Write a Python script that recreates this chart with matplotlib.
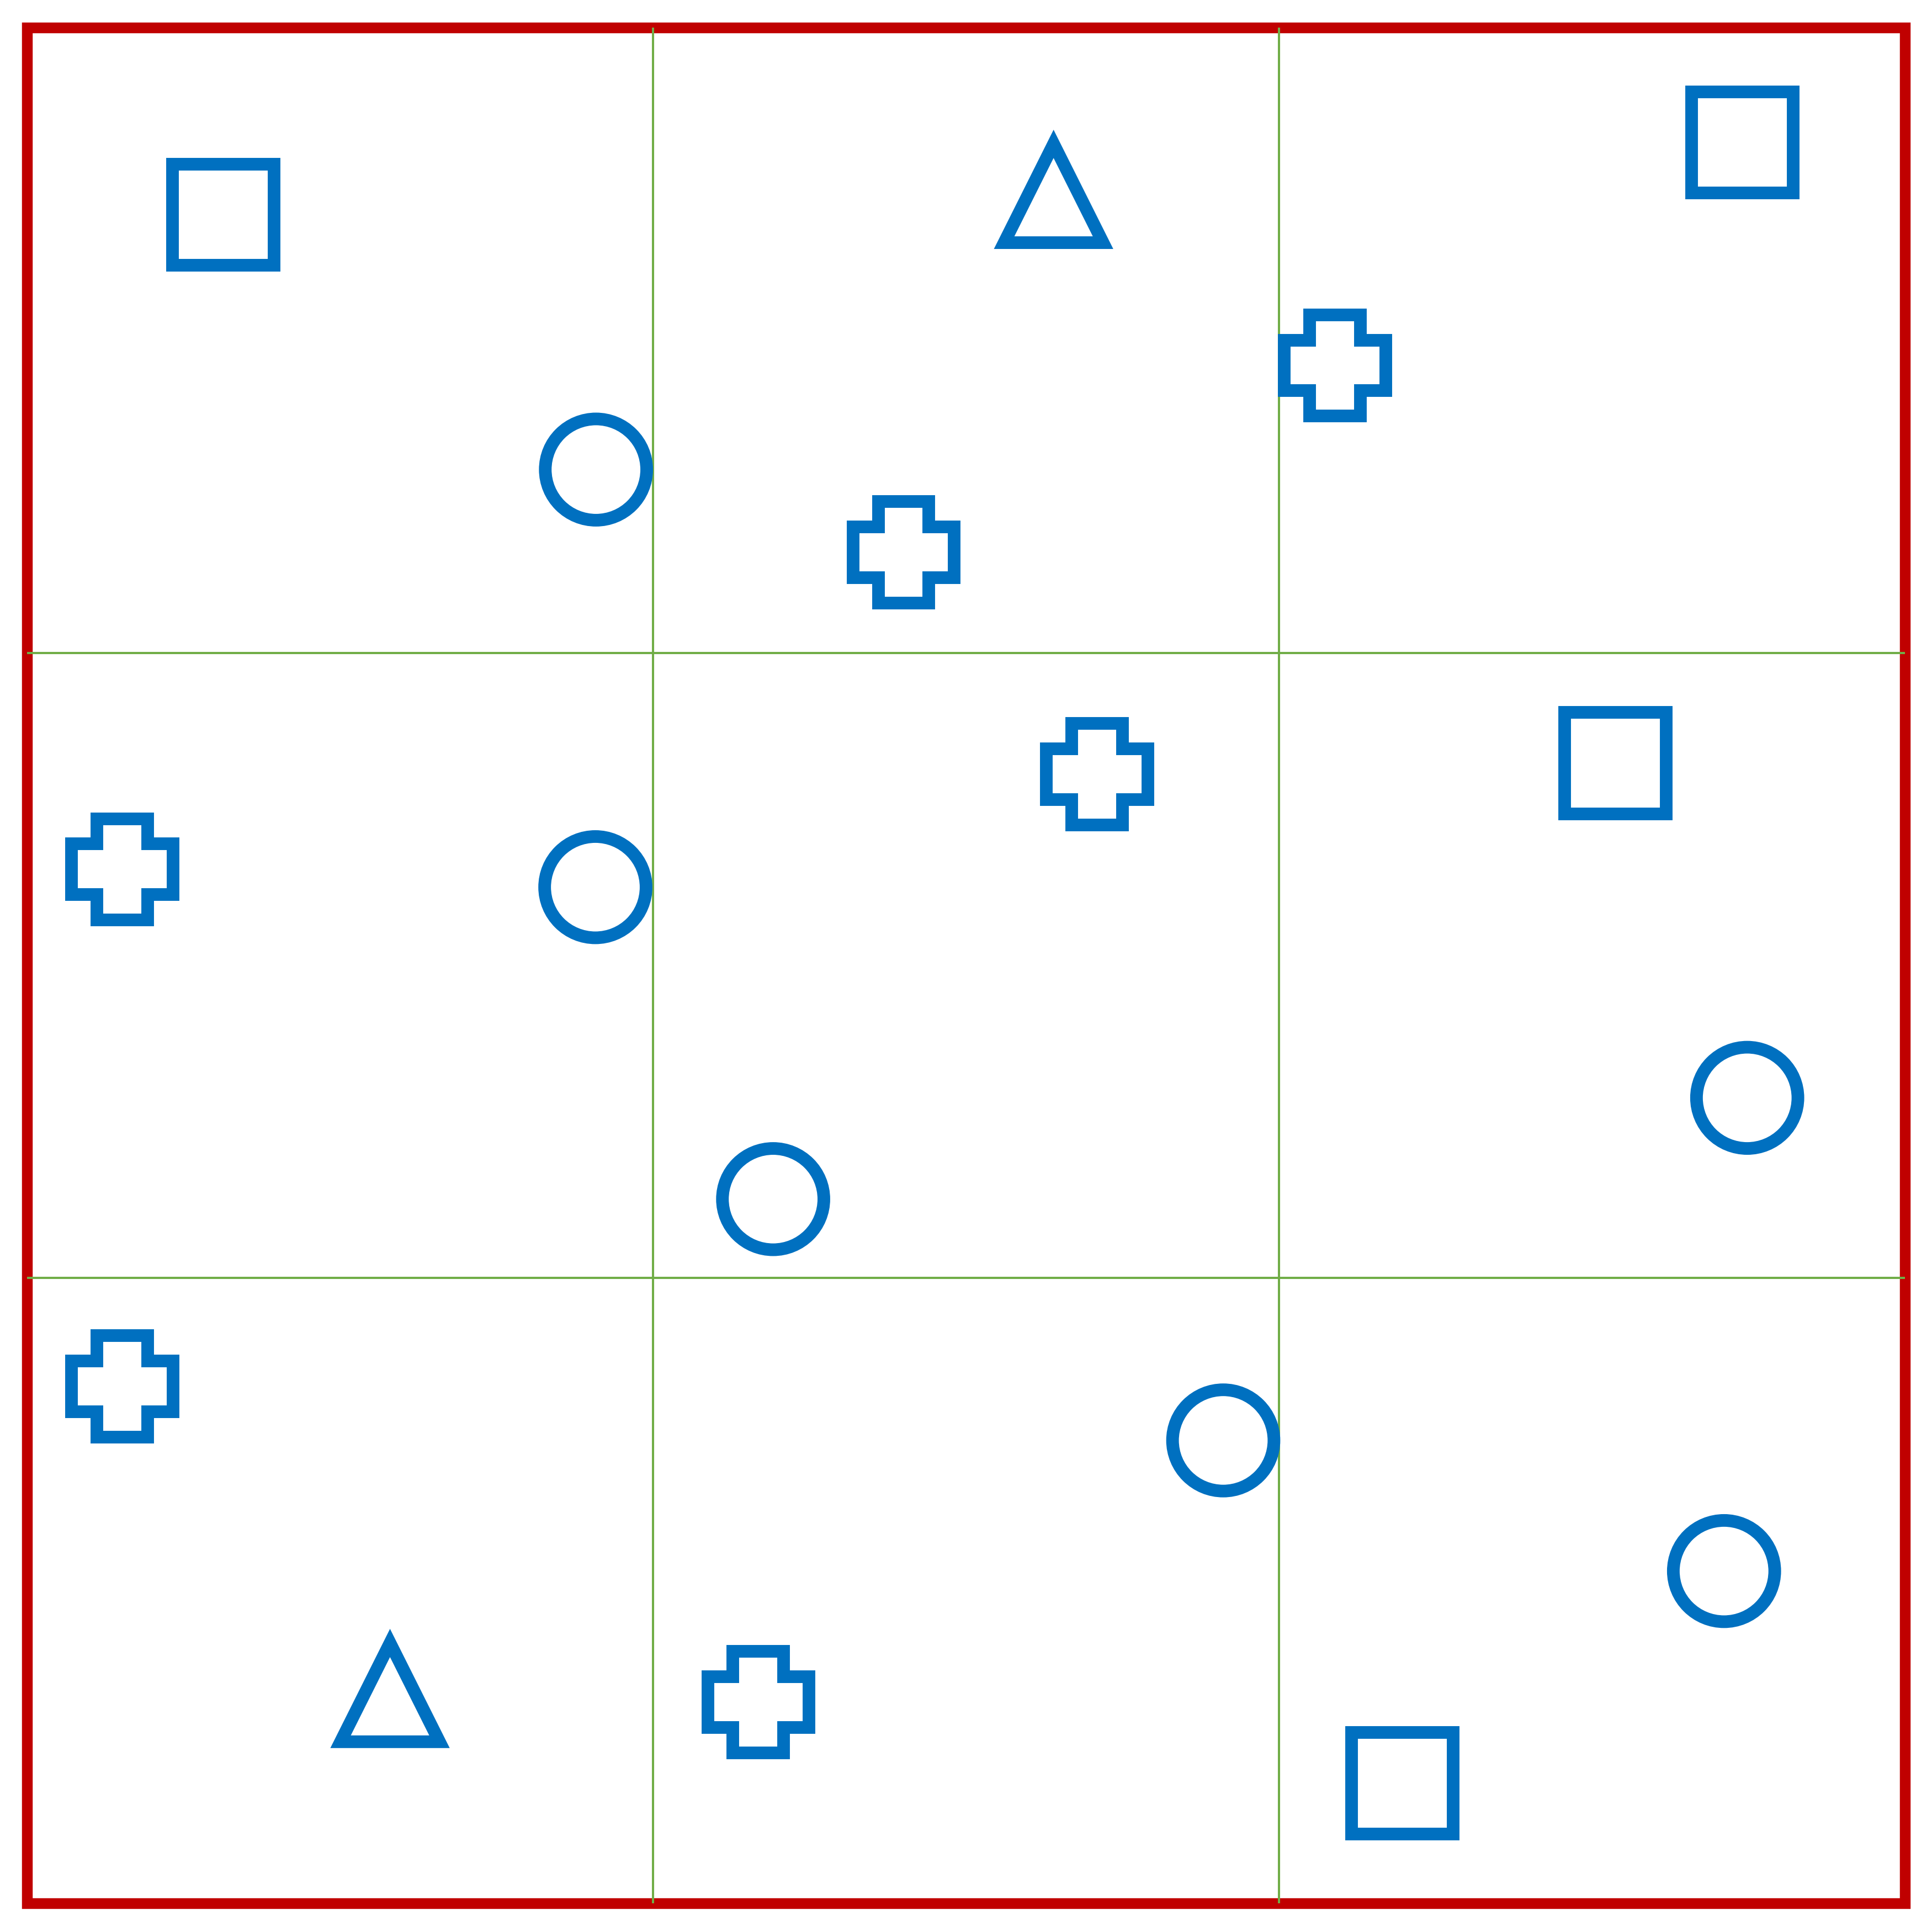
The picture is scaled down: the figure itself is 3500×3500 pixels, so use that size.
import matplotlib
matplotlib.use("Agg")
import matplotlib.pyplot as plt
from matplotlib.patches import Rectangle, Circle, Polygon

# Data (cell units, 3x3 grid, origin bottom-left)
kinds = ["square", "circle", "triangle", "square", "cross", "cross",
         "cross", "circle", "cross", "square", "circle", "circle",
         "cross", "circle", "circle", "triangle", "cross", "square"]
xs = [0.313, 0.909, 1.640, 2.740, 2.089, 1.400,
      0.152, 0.908, 1.709, 2.537, 2.748, 1.192,
      0.152, 1.911, 2.711, 0.580, 1.168, 2.197]
ys = [2.701, 2.293, 2.735, 2.817, 2.460, 2.161,
      1.654, 1.625, 1.806, 1.824, 1.288, 1.126,
      0.827, 0.740, 0.531, 0.337, 0.322, 0.192]
grid_pos = [1, 2]

BLUE = "#0070C0"
RED = "#C00000"
GREEN = "#70AD47"
S = 0.162       # shape size (data units)
ST = 0.158      # triangle size
LW = 16.5       # stroke width, points
DPI = 100

fig = plt.figure(figsize=(35, 35), dpi=DPI)
W = 3500.0
ax = fig.add_axes([48.8 / W, (W - 3447.5) / W, 3402.2 / W, 3397.5 / W])
ax.set_xlim(0, 3)
ax.set_ylim(0, 3)
ax.axis("off")

# red frame
ax.add_patch(Rectangle((0, 0), 1, 1, transform=ax.transAxes, fill=False,
                       edgecolor=RED, linewidth=14, joinstyle="miter",
                       clip_on=False, zorder=2))

# green grid lines
for g in grid_pos:
    ax.plot([g, g], [0, 3], color=GREEN, lw=2.9, zorder=3, clip_on=False,
            solid_capstyle="butt")
    ax.plot([0, 3], [g, g], color=GREEN, lw=2.9, zorder=3, clip_on=False,
            solid_capstyle="butt")

kw = dict(fill=False, edgecolor=BLUE, linewidth=LW, joinstyle="miter",
          zorder=4, clip_on=False)

for k, x, y in zip(kinds, xs, ys):
    h = S / 2
    if k == "square":
        p = Rectangle((x - h, y - h), S, S, **kw)
    elif k == "circle":
        p = Circle((x, y), h, **kw)
    elif k == "triangle":
        t = ST / 2
        p = Polygon([(x, y + t), (x - t, y - t), (x + t, y - t)], closed=True, **kw)
    else:
        a = S / 4
        pts = [(-a, -h), (a, -h), (a, -a), (h, -a), (h, a), (a, a),
               (a, h), (-a, h), (-a, a), (-h, a), (-h, -a), (-a, -a)]
        p = Polygon([(x + dx, y + dy) for dx, dy in pts], closed=True, **kw)
    ax.add_patch(p)

fig.savefig("out.png", dpi=DPI, facecolor="white")
